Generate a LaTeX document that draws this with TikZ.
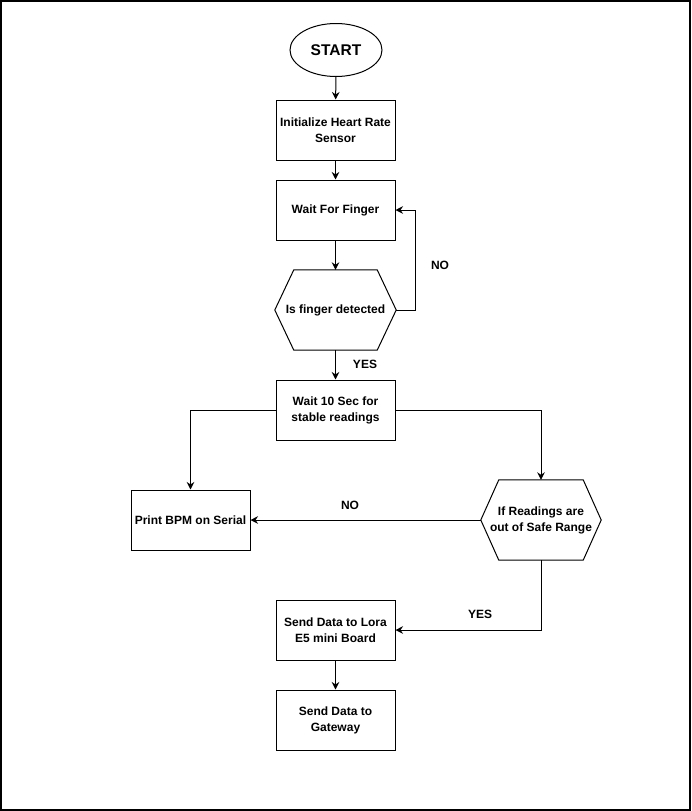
\documentclass[tikz,border=0pt]{standalone}
\usepackage{fontspec}
\setmainfont{Liberation Sans}
\usetikzlibrary{arrows.meta,calc,shapes.geometric}
\begin{document}
\begin{tikzpicture}[x=1pt,y=-1pt,
  every node/.style={font=\bfseries\fontsize{12}{16}\selectfont, inner sep=0pt, align=center},
  procbox/.style={draw, line width=1pt, minimum width=119pt, minimum height=60pt},
  hexbox/.style={minimum width=121pt, minimum height=80pt},
  lbl/.style={font=\bfseries\fontsize{12}{16}\selectfont},
  conn/.style={line width=1pt, -{Stealth[length=7.5pt,width=7.5pt,inset=2.5pt]}}]
\useasboundingbox (0,0) rectangle (691,811);
\draw[line width=1.5pt] (0.75,0.75) rectangle (689.75,809.75);

\node[draw, ellipse, line width=1pt, minimum width=92pt, minimum height=53pt,
  font=\bfseries\fontsize{15.5}{18}\selectfont] (start) at (336,50) {START};
\node[procbox] (init) at (335.5,130) {Initialize Heart Rate\\Sensor};
\node[procbox] (wait) at (335.5,210) {Wait For Finger};
\node[hexbox] (det) at (335.5,310) {Is finger detected};
\draw[line width=1pt] (det.west) -- ($(det.north west)+(19,0)$) -- ($(det.north east)+(-19,0)$)
  -- (det.east) -- ($(det.south east)+(-19,0)$) -- ($(det.south west)+(19,0)$) -- cycle;
\node[procbox] (ten) at (335.5,410) {Wait 10 Sec for\\stable readings};
\node[procbox] (bpm) at (190.5,520) {Print BPM on Serial};
\node[hexbox, minimum width=120pt] (rng) at (541,520) {If Readings are\\out of Safe Range};
\draw[line width=1pt] (rng.west) -- ($(rng.north west)+(18,0)$) -- ($(rng.north east)+(-18,0)$)
  -- (rng.east) -- ($(rng.south east)+(-18,0)$) -- ($(rng.south west)+(18,0)$) -- cycle;
\node[procbox] (lora) at (335.5,630) {Send Data to Lora\\E5 mini Board};
\node[procbox] (gw) at (335.5,720) {Send Data to\\Gateway};

\draw[conn] (start) -- (init);
\draw[conn] (init) -- (wait);
\draw[conn] (wait) -- (det);
\draw[conn] (det.east) -- ++(19,0) |- (wait.east);
\draw[conn] (det) -- (ten);
\draw[conn] (ten.west) -| (bpm.north);
\draw[conn] (ten.east) -| (rng.north);
\draw[conn] (rng.west) -- (bpm.east);
\draw[conn] (rng.south) |- (lora.east);
\draw[conn] (lora) -- (gw);

\node[lbl] (no1) at (440,265) {NO};
\node[lbl] (yes1) at (365,364) {YES};
\node[lbl] (no2) at (350,505) {NO};
\node[lbl] (yes2) at (480,614) {YES};
\end{tikzpicture}
\end{document}
